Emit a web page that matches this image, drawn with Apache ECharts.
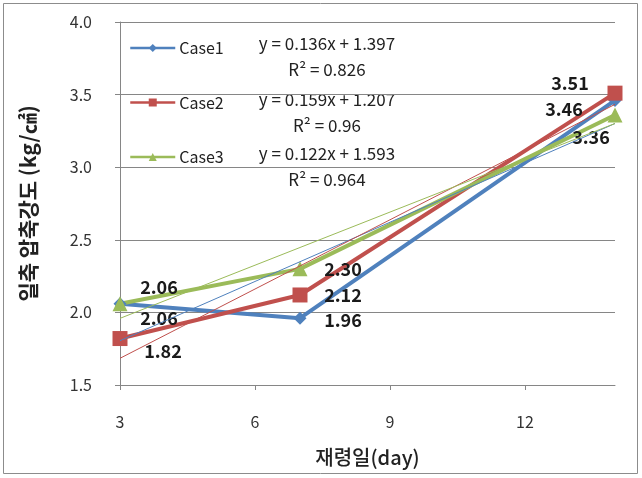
<!DOCTYPE html>
<html>
<head>
<meta charset="utf-8">
<script src="https://cdn.jsdelivr.net/npm/echarts@6/dist/echarts.min.js"></script>
<style>
  html, body { margin: 0; padding: 0; background: #fff; }
  #chart { width: 642px; height: 478px; }
</style>
</head>
<body>
<div id="chart"></div>
<script>
// Curing age (days) and uniaxial compressive strength per case
const days = [3, 7, 14];
const case1 = [2.06, 1.96, 3.46];
const case2 = [1.82, 2.12, 3.51];
const case3 = [2.06, 2.30, 3.36];
const caseNames = ['Case1', 'Case2', 'Case3'];

// Linear fit coefficients and R² shown beside the legend
const slopes = [0.136, 0.159, 0.122];
const intercepts = [1.397, 1.207, 1.593];
const rSquared = ['0.826', '0.96', '0.964'];

// Axis ranges / tick steps
const xRange = [3, 14];
const xStep = 3;
const yRange = [1.5, 4.0];
const yStep = 0.5;

// Styling
const colors = ['#4F81BD', '#C0504D', '#9BBB59'];
const symbols = ['diamond', 'rect', 'triangle'];
const symbolSizes = [13, 15, 15];
// value-label offsets (px from the marker centre), one list per case
const labelOffsets = [
  [[39, 14], [43, 2], [-51, 9]],
  [[43, 13], [43, 0], [-45, -10]],
  [[39, -17], [43, 0], [-24, 22]]
];

const FONT = '"Noto Sans CJK KR", "Noto Sans", sans-serif';
const values = [case1, case2, case3];

const dataSeries = values.map((vals, i) => ({
  name: caseNames[i],
  type: 'line',
  data: days.map((d, j) => ({
    value: [d, vals[j]],
    label: { offset: labelOffsets[i][j] }
  })),
  symbol: symbols[i],
  symbolSize: symbolSizes[i],
  lineStyle: { width: 4, color: colors[i] },
  itemStyle: { color: colors[i] },
  label: {
    show: true,
    position: 'inside',
    formatter: p => p.value[1].toFixed(2),
    fontFamily: FONT,
    fontSize: 18,
    fontWeight: 'bold',
    color: '#1a1a1a'
  },
  emphasis: { disabled: true },
  z: 3
}));

// Thin linear trend lines across the sampled range
const trendSeries = slopes.map((m, i) => ({
  name: caseNames[i] + ' fit',
  type: 'line',
  data: [xRange[0], days[days.length - 1]].map(x => [x, m * x + intercepts[i]]),
  symbol: 'none',
  lineStyle: { width: 1, color: colors[i] },
  emphasis: { disabled: true },
  silent: true,
  z: 4
}));

// Equation annotations next to legend entries
const eqTop = [44, 100, 154];
const graphics = [];
slopes.forEach((m, i) => {
  graphics.push({
    type: 'text', x: 327, y: eqTop[i],
    style: {
      text: 'y = ' + m.toFixed(3) + 'x + ' + intercepts[i].toFixed(3),
      font: '17px ' + FONT, fill: '#222', align: 'center', verticalAlign: 'middle'
    }
  });
  graphics.push({
    type: 'text', x: 327, y: eqTop[i] + 26,
    style: {
      text: 'R² = ' + rSquared[i],
      font: '17px ' + FONT, fill: '#222', align: 'center', verticalAlign: 'middle'
    }
  });
});
// outer chart border
graphics.push({
  type: 'rect', shape: { x: 3.5, y: 3.5, width: 634, height: 470 },
  style: { fill: 'none', stroke: '#8c8c8c', lineWidth: 1 }, z: -1
});

const chart = echarts.init(document.getElementById('chart'), null, { renderer: 'canvas' });
chart.setOption({
  animation: false,
  backgroundColor: '#fff',
  color: colors,
  grid: { left: 120, right: 27, top: 22, bottom: 93, containLabel: false },
  legend: {
    data: caseNames,
    orient: 'vertical',
    left: 124,
    top: 35,
    itemWidth: 45,
    itemHeight: 10,
    itemGap: 38.5,
    lineStyle: { width: 2.5 },
    textStyle: { fontFamily: FONT, fontSize: 16, color: '#222', padding: [0, 0, 0, -1] }
  },
  xAxis: {
    type: 'value',
    min: xRange[0],
    max: xRange[1],
    interval: xStep,
    name: '재령일(day)',
    nameLocation: 'middle',
    nameGap: 62,
    nameTextStyle: { fontFamily: FONT, fontSize: 20, fontWeight: 500, color: '#222' },
    axisLine: { lineStyle: { color: '#868686' } },
    axisTick: { length: 5, lineStyle: { color: '#868686' } },
    axisLabel: {
      showMaxLabel: false, margin: 29,
      fontFamily: FONT, fontSize: 16, color: '#333'
    },
    splitLine: { show: false }
  },
  yAxis: {
    type: 'value',
    min: yRange[0],
    max: yRange[1],
    interval: yStep,
    name: '일축 압축강도 (kg/㎠)',
    nameLocation: 'middle',
    nameGap: 81,
    nameRotate: 90,
    nameTextStyle: { fontFamily: FONT, fontSize: 21, fontWeight: 'bold', color: '#222' },
    axisLine: { show: true, lineStyle: { color: '#868686' } },
    axisTick: { show: true, length: 5, lineStyle: { color: '#868686' } },
    axisLabel: {
      margin: 28, formatter: v => v.toFixed(1),
      fontFamily: FONT, fontSize: 16, color: '#333'
    },
    splitLine: { lineStyle: { color: '#868686', width: 1 } }
  },
  graphic: graphics,
  series: [...dataSeries, ...trendSeries]
});
</script>
</body>
</html>
